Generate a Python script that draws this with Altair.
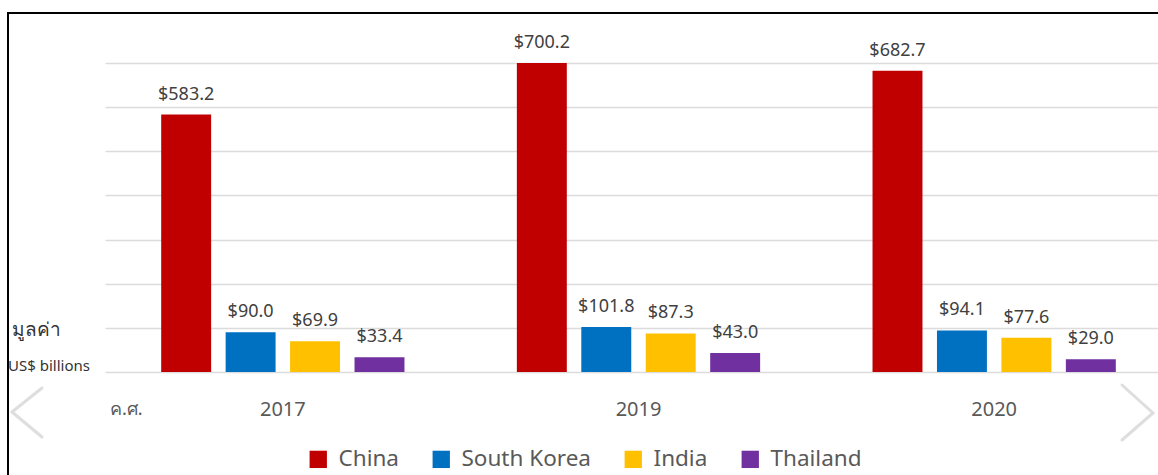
import altair as alt
import pandas as pd

years = ["2017", "2019", "2020"]
countries = ["China", "South Korea", "India", "Thailand"]
china = [583.2, 700.2, 682.7]
south_korea = [90.0, 101.8, 94.1]
india = [69.9, 87.3, 77.6]
thailand = [33.4, 43.0, 29.0]
colors = ["#C00000", "#0070C0", "#FFC000", "#7030A0"]
grid_values = [0, 100, 200, 300, 400, 500, 600, 700]

rows = []
for c, vals in zip(countries, [china, south_korea, india, thailand]):
    for y, v in zip(years, vals):
        rows.append({"year": y, "country": c, "value": v, "label": f"${v:.1f}"})
df = pd.DataFrame(rows)

FONT = "Noto Sans"

x_enc = alt.X("year:N", sort=years,
              scale=alt.Scale(range=[0, 1067], paddingInner=0, paddingOuter=0),
              axis=alt.Axis(title=None, labelAngle=0, labelFontSize=20, labelColor="#595959",
                            labelFont=FONT, labelPadding=27, ticks=False, domain=False, grid=False))
xo_enc = alt.XOffset("country:N", sort=countries,
                     scale=alt.Scale(paddingInner=0.225, paddingOuter=0.872))
y_enc = alt.Y("value:Q", scale=alt.Scale(domain=[0, 700]),
              axis=alt.Axis(title=None, values=grid_values, labels=False, ticks=False,
                            domain=False, grid=True, gridColor="#dcdcdc", gridWidth=1.5))

bars = alt.Chart(df).mark_bar().encode(
    x=x_enc, xOffset=xo_enc, y=y_enc,
    color=alt.Color("country:N", sort=countries,
                    scale=alt.Scale(domain=countries, range=colors),
                    legend=alt.Legend(title=None, orient="none", legendX=202, legendY=385,
                                      direction="horizontal", symbolType="square",
                                      symbolSize=300, symbolStrokeWidth=0,
                                      labelFontSize=22.5, labelColor="#595959", labelFont=FONT,
                                      columnPadding=31, labelOffset=9)),
)

labels = alt.Chart(df).mark_text(baseline="bottom", dy=-11, fontSize=18, color="#404040",
                                 font=FONT).encode(
    x=alt.X("year:N", sort=years), xOffset=alt.XOffset("country:N", sort=countries),
    y=alt.Y("value:Q"), text="label:N")

dummy = alt.Data(values=[{}])

def txt(s, x, y, size, color, align="left"):
    return alt.Chart(dummy).mark_text(text=s, fontSize=size, color=color, font=FONT,
                                      align=align, baseline="middle").encode(
        x=alt.value(x), y=alt.value(y))

t1 = txt("มูลค่า", -93, 267, 19, "#333333")
t2 = txt("US$ billions", -15, 303, 15, "#333333", align="right")
t3 = txt("ค.ศ.", 5, 347, 18, "#595959")

mask = alt.Chart(dummy).mark_rect(color="white").encode(
    x=alt.value(-110), x2=alt.value(-97), y=alt.value(-70), y2=alt.value(420))
border = alt.Chart(dummy).mark_rect(fill=None, stroke="black", strokeWidth=2).encode(
    x=alt.value(-97), x2=alt.value(1070), y=alt.value(-50), y2=alt.value(430))

def seg(x1, y1, x2, y2):
    return alt.Chart(dummy).mark_rule(color="#dedede", strokeWidth=3, strokeCap="round").encode(
        x=alt.value(x1), y=alt.value(y1), x2=alt.value(x2), y2=alt.value(y2))

arrows = [seg(-63, 325, -93, 349), seg(-93, 349, -63, 374),
          seg(1017, 322, 1048, 350), seg(1048, 350, 1017, 377)]

chart = alt.layer(bars, labels, t1, t2, t3, *arrows, mask, border).properties(
    width=1053, height=309, autosize="none",
    padding={"left": 105, "top": 63, "right": 0, "bottom": 103},
    background="white",
).configure_view(stroke=None)

chart.save("out.html", embed_options={"renderer": "svg", "actions": False})
